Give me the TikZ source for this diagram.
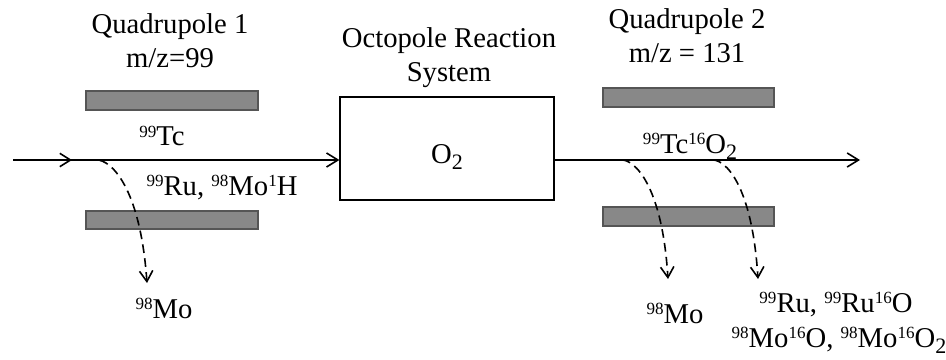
\documentclass[tikz,border=0pt]{standalone}
\usepackage{fontspec}
\setmainfont{Liberation Serif}
\usetikzlibrary{arrows.meta}
\definecolor{rodfill}{RGB}{136,136,136}
\definecolor{rodedge}{RGB}{85,85,85}
\newcommand{\iso}[1]{\raisebox{6.5pt}{\fontsize{12.8}{12}\selectfont #1}}
\newcommand{\low}[1]{\raisebox{-4.5pt}{\fontsize{16.5}{16}\selectfont #1}}

\begin{document}
\begin{tikzpicture}[x=0.75pt,y=-0.75pt,
					rod/.style={draw=rodedge, fill=rodfill, line width=0.9pt},
					beam/.style={line width=1.2pt, -{Straight Barb[length=8.5pt,width=10.5pt]}},
					lost/.style={line width=1.2pt, dash pattern=on 6.5pt off 4pt, -{Straight Barb[length=8pt,width=10pt]}},
					lbl/.style={anchor=base, inner sep=0pt, align=center, font=\fontsize{21.5}{25.5}\selectfont}
				]
				\useasboundingbox (0,0) rectangle (946,360);

				% --- Celda de reaccion ---
				\node[draw, line width=0.9pt, minimum width=160.5pt, minimum height=77.25pt] (ors) at (447,148.5) {};
				\node[lbl] (orsgas) at (447,163) {O\low{2}};
				\node[lbl] (orsname) at (449,82) {Octopole Reaction\\System};

				% --- Cuadrupolo 1 ---
				\draw[rod] (86,91) rectangle (258,110);
				\draw[rod] (86,211) rectangle (258,229);
				\node[lbl] (q1name) at (170,68) {Quadrupole 1\\m/z=99};
				\node[lbl] (q1pass) at (162,146) {\iso{99}Tc};
				\node[lbl] (q1rej) at (222,195) {\iso{99}Ru, \iso{98}Mo\iso{1}H};
				\node[lbl] (q1out) at (164,318) {\iso{98}Mo};

				% --- Cuadrupolo 2 ---
				\draw[rod] (603,88) rectangle (774,107);
				\draw[rod] (603,207) rectangle (774,226);
				\node[lbl] (q2name) at (687,63) {Quadrupole 2\\m/z = 131};
				\node[lbl] (q2pass) at (690,153) {\iso{99}Tc\iso{16}O\low{2}};
				\node[lbl] (q2outA) at (675,323) {\iso{98}Mo};
				\node[lbl] (q2outB) at (836,312) {\iso{99}Ru, \iso{99}Ru\iso{16}O};
				\node[lbl] (q2outC) at (839,347) {\iso{98}Mo\iso{16}O, \iso{98}Mo\iso{16}O\low{2}};

				% --- Haz principal ---
				\coordinate (in) at (13,160);
				\coordinate (out) at (860,160);
				\draw[beam] (in) -- (in -| ors.west);
				\draw[beam] (in -| ors.east) -- (out);

				% --- Iones desviados ---
				\coordinate (q1mark) at (72,160);
				\coordinate (q1split) at (97,160);
				\coordinate (q1drop) at (147,283);
				\coordinate (q2splitA) at (622,160);
				\coordinate (q2dropA) at (668,279);
				\coordinate (q2splitB) at (713,160);
				\coordinate (q2dropB) at (758,279);
				\draw[lost] (in) -- (q1mark);
				\draw[lost] (q1mark) -- (q1split) .. controls +(13,0) and +(-7,-98) .. (q1drop);
				\draw[lost] (q2splitA) .. controls +(12,0) and +(-6,-95) .. (q2dropA);
				\draw[lost] (q2splitB) .. controls +(12,0) and +(-6,-95) .. (q2dropB);

			\end{tikzpicture}
\end{document}
